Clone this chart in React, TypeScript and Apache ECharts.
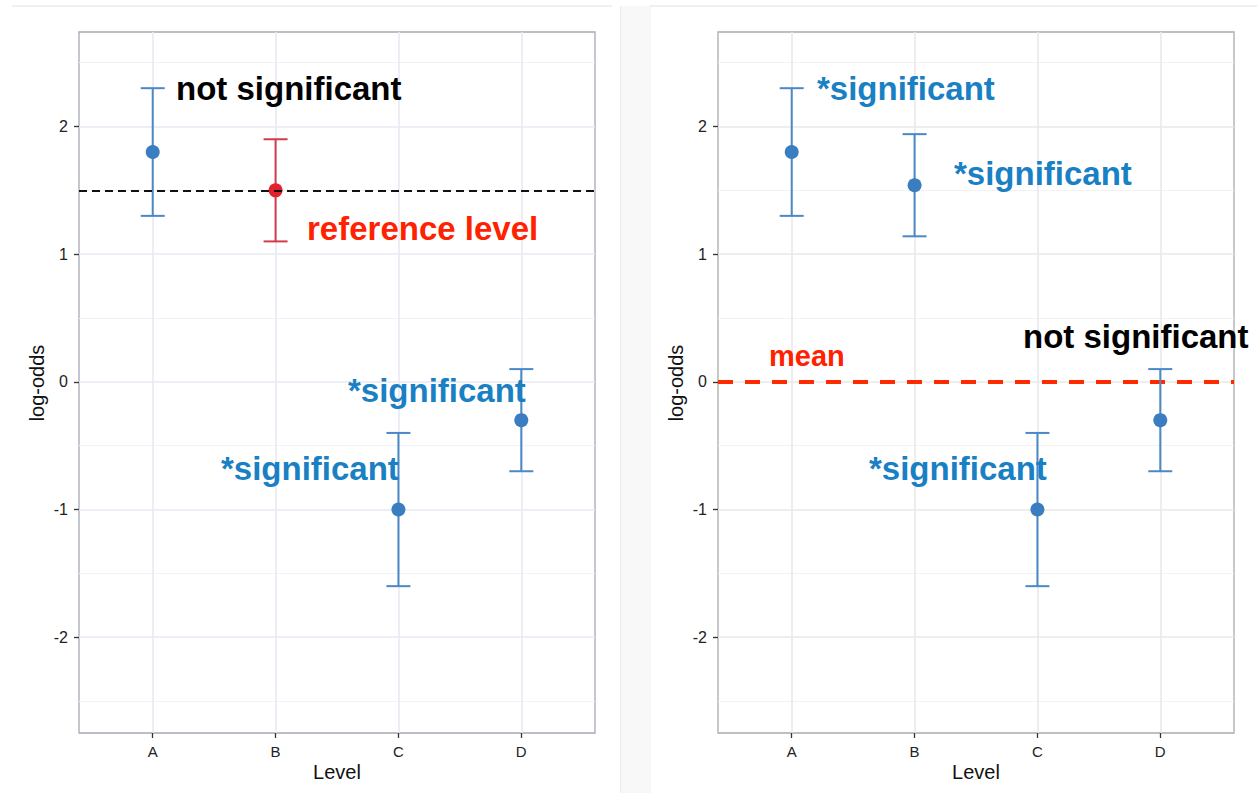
import React, { useEffect, useRef } from "react";
import * as echarts from "echarts";

const levels = ["A", "B", "C", "D"];
const levelPos = [1, 2, 3, 4];

const leftEst = [1.8, 1.5, -1.0, -0.3];
const leftLow = [1.3, 1.1, -1.6, -0.7];
const leftHigh = [2.3, 1.9, -0.4, 0.1];

const rightEst = [1.8, 1.54, -1.0, -0.3];
const rightLow = [1.3, 1.14, -1.6, -0.7];
const rightHigh = [2.3, 1.94, -0.4, 0.1];

const referenceLevel = 1.5;
const meanLevel = 0;

const yTicks = [-2, -1, 0, 1, 2];
const yMinor = [-2.5, -1.5, -0.5, 0.5, 1.5, 2.5];
const yMin = -2.75;
const yMax = 2.74;
const xMin = 0.4;
const xMax = 4.6;

const FONT = "'Liberation Sans', Arial, Helvetica, sans-serif";
const BLUE_TXT = "#1a80c4";
const BLUE_PT = "#3a7dc0";
const BLUE_BAR = "#4a88c8";
const RED_PT = "#e3222b";
const RED_BAR = "#d23c4a";
const RED_TXT = "#ff2200";

const leftColors = [
  [BLUE_PT, BLUE_BAR],
  [RED_PT, RED_BAR],
  [BLUE_PT, BLUE_BAR],
  [BLUE_PT, BLUE_BAR],
];

export default function App() {
  const ref = useRef<HTMLDivElement>(null);
  useEffect(() => {
    if (!ref.current) return;
    const chart = echarts.init(ref.current, null, { renderer: "svg" });

    const gridLeft = [79, 718];
    const gridTop = 32;
    const gridW = 516;
    const gridH = 701;

    const mkGrid = (i: number) => ({
      left: gridLeft[i],
      top: gridTop,
      width: gridW,
      height: gridH,
      show: true,
      backgroundColor: "#ffffff",
      borderColor: i === 0 ? "#a8a8b4" : "#ababab",
      borderWidth: 1.3,
      containLabel: false,
    });

    const mkX = (i: number) => ({
      type: "value",
      gridIndex: i,
      min: xMin,
      max: xMax,
      position: "bottom",
      axisLine: { show: false, onZero: false },
      splitLine: { show: false },
      axisTick: {
        show: true,
        length: 5,
        customValues: levelPos,
        lineStyle: { color: "#333", width: 1.3 },
      },
      axisLabel: {
        customValues: levelPos,
        formatter: (v: number) => levels[Math.round(v) - 1] ?? "",
        color: "#222",
        fontSize: 15,
        fontFamily: FONT,
        margin: 11,
      },
    });

    const mkY = (i: number) => ({
      type: "value",
      gridIndex: i,
      min: yMin,
      max: yMax,
      position: "left",
      axisLine: { show: false, onZero: false },
      splitLine: { show: false },
      axisTick: {
        show: true,
        length: 5,
        customValues: yTicks,
        lineStyle: { color: "#333", width: 1.3 },
      },
      axisLabel: {
        customValues: yTicks,
        formatter: (v: number) => String(v),
        color: "#222",
        fontSize: 16,
        fontFamily: FONT,
        margin: 11,
      },
    });

    const gridLineSeries = (i: number) => {
      const major = i === 0 ? "#e8e9f3" : "#e9e9e9";
      const minor = i === 0 ? "#f1f2f8" : "#f2f2f2";
      return {
        type: "line",
        xAxisIndex: i,
        yAxisIndex: i,
        data: [],
        silent: true,
        z: 0,
        markLine: {
          silent: true,
          symbol: "none",
          z: 0,
          label: { show: false },
          animation: false,
          data: [
            ...yMinor.map((v) => ({ yAxis: v, lineStyle: { color: minor, width: 1.2, type: "solid" } })),
            ...yTicks.map((v) => ({ yAxis: v, lineStyle: { color: major, width: 1.6, type: "solid" } })),
            ...levelPos.map((v) => ({ xAxis: v, lineStyle: { color: major, width: 1.6, type: "solid" } })),
          ],
        },
      };
    };

    const errorSeries = (i: number, low: number[], high: number[], colors: string[]) => ({
      type: "custom",
      xAxisIndex: i,
      yAxisIndex: i,
      z: 3,
      silent: true,
      data: levelPos.map((x, k) => ({ value: [x, low[k], high[k]], itemStyle: { color: colors[k] } })),
      renderItem: (params: any, api: any) => {
        const x = api.value(0);
        const p1 = api.coord([x, api.value(1)]);
        const p2 = api.coord([x, api.value(2)]);
        const color = api.visual("color");
        const hw = 12;
        const st = { stroke: color, lineWidth: 2 };
        return {
          type: "group",
          children: [
            { type: "line", shape: { x1: p1[0], y1: p1[1], x2: p2[0], y2: p2[1] }, style: st },
            { type: "line", shape: { x1: p1[0] - hw, y1: p1[1], x2: p1[0] + hw, y2: p1[1] }, style: st },
            { type: "line", shape: { x1: p2[0] - hw, y1: p2[1], x2: p2[0] + hw, y2: p2[1] }, style: st },
          ],
        };
      },
    });

    const pointSeries = (i: number, est: number[], colors: string[], z: number) => ({
      type: "scatter",
      xAxisIndex: i,
      yAxisIndex: i,
      symbol: "circle",
      symbolSize: 14,
      z,
      silent: true,
      itemStyle: { opacity: 1 },
      data: levelPos.map((x, k) => ({ value: [x, est[k]], itemStyle: { color: colors[k], opacity: 1 } })),
    });

    const refLineSeries = (i: number, y: number, color: string, width: number, dash: number[], z: number) => ({
      type: "line",
      xAxisIndex: i,
      yAxisIndex: i,
      data: [],
      z,
      markLine: {
        silent: true,
        symbol: "none",
        z,
        label: { show: false },
        animation: false,
        data: [{ yAxis: y }],
        lineStyle: { color, width, type: dash },
      },
    });

    const txt = (text: string, x: number, baseline: number, size: number, color: string) => ({
      type: "text",
      x,
      y: baseline - size * 0.36,
      z: 100,
      style: {
        text,
        fill: color,
        font: `bold ${size}px ${FONT}`,
        align: "left",
        verticalAlign: "middle",
      },
    });

    const axisTitle = (text: string, x: number, y: number, rotate: boolean) => ({
      type: "text",
      x,
      y,
      rotation: rotate ? Math.PI / 2 : 0,
      z: 100,
      style: {
        text,
        fill: "#111",
        font: `20px ${FONT}`,
        align: "center",
        verticalAlign: "middle",
      },
    });

    const option: any = {
      animation: false,
      backgroundColor: "#ffffff",
      grid: [mkGrid(0), mkGrid(1)],
      xAxis: [mkX(0), mkX(1)],
      yAxis: [mkY(0), mkY(1)],
      series: [
        gridLineSeries(0),
        gridLineSeries(1),
        errorSeries(0, leftLow, leftHigh, leftColors.map((c) => c[1])),
        pointSeries(0, leftEst, leftColors.map((c) => c[0]), 4),
        refLineSeries(0, referenceLevel, "#111111", 1.9, [8, 5], 6),
        refLineSeries(1, meanLevel, "#ff2a00", 4, [15, 12], 2),
        errorSeries(1, rightLow, rightHigh, levelPos.map(() => BLUE_BAR)),
        pointSeries(1, rightEst, levelPos.map(() => BLUE_PT), 4),
      ],
      graphic: [
        { type: "rect", shape: { x: 620, y: 6, width: 31, height: 787 }, style: { fill: "#f8f8f8" }, z: -10 },
        { type: "line", shape: { x1: 12, y1: 6, x2: 612, y2: 6 }, style: { stroke: "#e2e2e2", lineWidth: 1.2 }, z: -5 },
        { type: "line", shape: { x1: 650, y1: 6, x2: 1257, y2: 6 }, style: { stroke: "#e2e2e2", lineWidth: 1.2 }, z: -5 },
        { type: "line", shape: { x1: 620.5, y1: 6, x2: 620.5, y2: 793 }, style: { stroke: "#ececec", lineWidth: 1 }, z: -5 },
        axisTitle("log-odds", 37, 383, true),
        axisTitle("Level", 337, 772, false),
        axisTitle("log-odds", 676, 383, true),
        axisTitle("Level", 976, 772, false),
        txt("not significant", 176, 100, 33, "#000000"),
        txt("reference level", 307, 240, 33, RED_TXT),
        txt("*significant", 348, 402, 33, BLUE_TXT),
        txt("*significant", 221, 480, 33, BLUE_TXT),
        txt("*significant", 817, 100, 33, BLUE_TXT),
        txt("*significant", 954, 185, 33, BLUE_TXT),
        txt("not significant", 1023, 348, 33, "#000000"),
        txt("mean", 769, 366, 29, RED_TXT),
        txt("*significant", 869, 480, 33, BLUE_TXT),
      ],
    };

    chart.setOption(option);
    return () => chart.dispose();
  }, []);

  return (
    <div
      ref={ref}
      style={{ position: "absolute", left: 0, top: 0, width: 1257, height: 793 }}
    />
  );
}
